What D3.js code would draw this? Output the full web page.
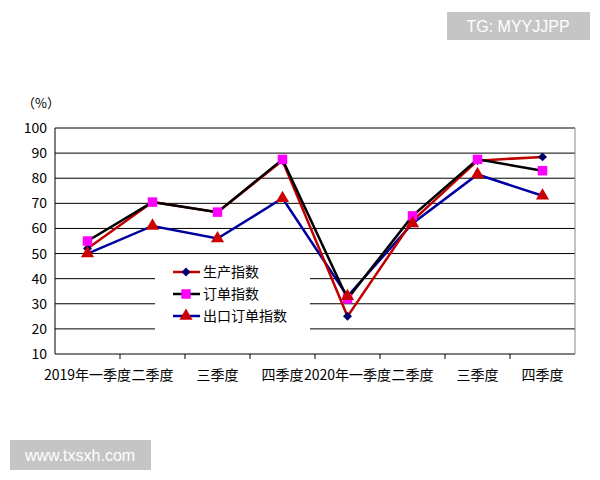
<!DOCTYPE html>
<html><head><meta charset="utf-8">
<script src="https://cdn.jsdelivr.net/npm/d3@7"></script>
<style>body{margin:0;background:#fff;font-family:"Noto Sans CJK SC",sans-serif}</style>
</head><body><svg id="c" width="600" height="480"></svg>
<script>
const categories = ['2019年一季度','二季度','三季度','四季度','2020年一季度','二季度','三季度','四季度'];
const production = [52, 70.5, 66.5, 87, 25, 63, 87, 88.5];
const orders = [55, 70.5, 66.5, 87.5, 32, 65, 87.5, 83];
const exports_ = [50, 61, 56, 72, 33, 62, 81.5, 73];
const yTicks = [10,20,30,40,50,60,70,80,90,100];

const svg = d3.select('#c');
const m = {l:55, r:575, t:128, b:354};
const x = d3.scaleBand().domain(d3.range(categories.length)).range([m.l, m.r]);
const y = d3.scaleLinear().domain([10,100]).range([m.b, m.t]);

// grid
svg.append('g').selectAll('line').data(yTicks).enter().append('line')
  .attr('x1', m.l).attr('x2', m.r).attr('y1', d=>y(d)).attr('y2', d=>y(d))
  .attr('stroke', '#000').attr('stroke-width', 1);
svg.append('line').attr('x1',m.l).attr('x2',m.l).attr('y1',m.t).attr('y2',m.b).attr('stroke','#000');
svg.append('line').attr('x1',m.r).attr('x2',m.r).attr('y1',m.t).attr('y2',m.b).attr('stroke','#888');

// y labels
svg.append('g').selectAll('text').data(yTicks).enter().append('text')
  .attr('x', m.l-8).attr('y', d=>y(d)+5).attr('text-anchor','end')
  .attr('font-size',14).text(d=>d);
svg.append('text').attr('x',22).attr('y',108).attr('font-size',13).text('（%）');

// x ticks
svg.append('g').selectAll('line').data(d3.range(1, categories.length)).enter().append('line')
  .attr('x1', d=>x(d)).attr('x2', d=>x(d)).attr('y1', m.b).attr('y2', m.b+5).attr('stroke','#000');
svg.append('g').selectAll('text').data(categories).enter().append('text')
  .attr('x', (d,i)=>x(i)+x.bandwidth()/2).attr('y', 380).attr('text-anchor','middle')
  .attr('font-size',14).text(d=>d);

const cx = i => x(i)+x.bandwidth()/2;
const line = d3.line().x((d,i)=>cx(i)).y(d=>y(d));
const series = [
  {name:'生产指数', data:production, color:'#c00000', mk:'diamond', mc:'#000066'},
  {name:'订单指数', data:orders, color:'#000', mk:'square', mc:'#ff00ff'},
  {name:'出口订单指数', data:exports_, color:'#0000a0', mk:'triangle', mc:'#cc0000'}
];
const sym = {diamond:d3.symbol().type(d3.symbolSquare).size(40),
  square:d3.symbol().type(d3.symbolSquare).size(90),
  triangle:d3.symbol().type(d3.symbolTriangle).size(75)};
const rot = s => s.mk==='diamond' ? ' rotate(45)' : '';

// legend background
svg.append('rect').attr('x',155).attr('y',258).attr('width',155).attr('height',72).attr('fill','#fff');

[2,0,1].forEach(k=>{
  const s = series[k];
  svg.append('path').attr('d', line(s.data)).attr('fill','none').attr('stroke',s.color).attr('stroke-width',2.5);
});
series.forEach(s=>{
  svg.append('g').selectAll('path').data(s.data).enter().append('path')
    .attr('d', sym[s.mk]()).attr('fill', s.mc)
    .attr('transform', (d,i)=>`translate(${cx(i)},${y(d)})${rot(s)}`);
});

// legend
series.forEach((s,i)=>{
  const ly = 272 + i*22;
  svg.append('line').attr('x1',173).attr('x2',200).attr('y1',ly).attr('y2',ly).attr('stroke',s.color).attr('stroke-width',2.5);
  svg.append('path').attr('d', sym[s.mk]()).attr('fill',s.mc).attr('transform',`translate(186,${ly})${rot(s)}`);
  svg.append('text').attr('x',203).attr('y',ly+5).attr('font-size',14).text(s.name);
});

// watermarks
svg.append('rect').attr('x',447).attr('y',12).attr('width',143).attr('height',28).attr('fill','#bbb').attr('opacity',0.85);
svg.append('text').attr('x',518).attr('y',32).attr('text-anchor','middle').attr('fill','#fff').attr('font-size',16)
  .attr('font-family','Liberation Sans, sans-serif').text('TG: MYYJJPP');
svg.append('rect').attr('x',10).attr('y',440).attr('width',141).attr('height',30).attr('fill','#bbb').attr('opacity',0.85);
svg.append('text').attr('x',80).attr('y',461).attr('text-anchor','middle').attr('fill','#fff').attr('font-size',16)
  .attr('font-family','Liberation Sans, sans-serif').text('www.txsxh.com');
</script></body></html>
